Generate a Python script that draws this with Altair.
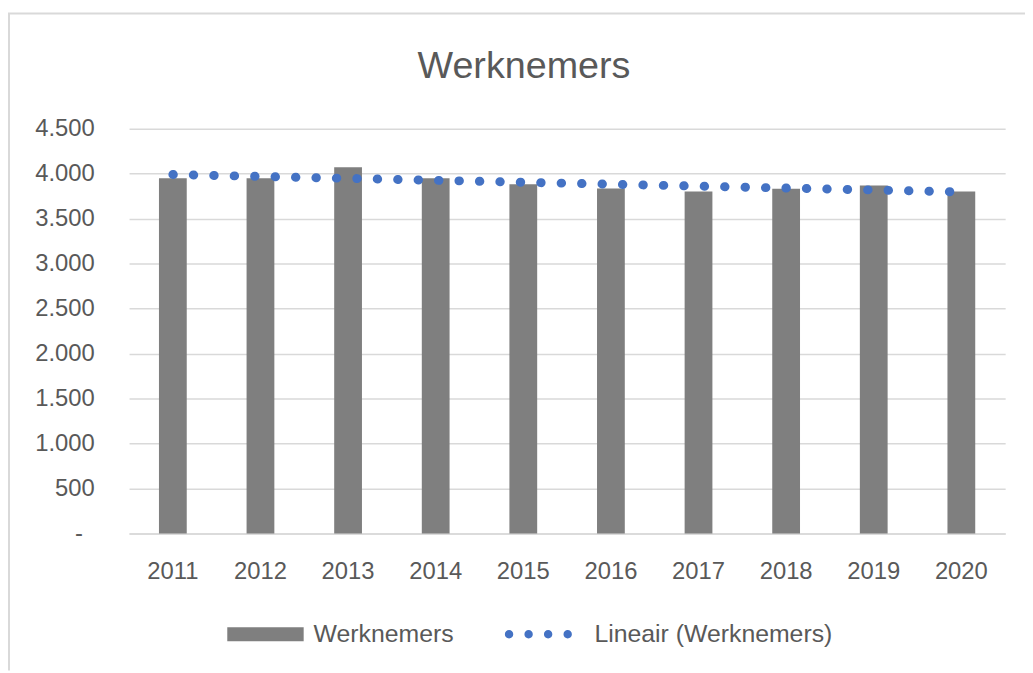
import altair as alt
import pandas as pd

# ---- data ----
JAREN = [2011, 2012, 2013, 2014, 2015, 2016, 2017, 2018, 2019, 2020]
WERKNEMERS = [3948, 3948, 4070, 3948, 3882, 3835, 3802, 3831, 3868, 3802]
SERIES = ["Werknemers", "Lineair (Werknemers)"]
COLORS = ["#7f7f7f", "#4472C4"]
Y_TICKS = [0, 500, 1000, 1500, 2000, 2500, 3000, 3500, 4000, 4500]
TITLE = "Werknemers"

df = pd.DataFrame({"jaar": JAREN, "werknemers": WERKNEMERS, "serie": SERIES[0]})

FONT = "Liberation Sans"
TXT = "#595959"
GRID = "#d9d9d9"

y_label_expr = (
    "datum.value == 0 ? '-' : "
    "replace(format(datum.value, ','), ',', '.')"
)

# legend symbol paths (unit space, scaled by sqrt(symbolSize)/2)
RECT_PATH = "M-1,-0.182H1V0.182H-1Z"
r = 0.11
dots = []
for cx in [-0.974, -0.462, 0.049, 0.561]:
    dots.append(f"M{cx - r:.3f},0a{r},{r} 0 1,0 {2*r:.3f},0a{r},{r} 0 1,0 {-2*r:.3f},0Z")
DOTS_PATH = "".join(dots)

legend_common = dict(
    title=None, orient="none", direction="horizontal", padding=0,
    symbolSize=5929, labelOffset=10, labelFontSize=25, labelColor=TXT,
    labelFont=FONT, symbolStrokeWidth=0, labelLimit=500,
)

x_axis = alt.Axis(
    title=None, labelAngle=0, ticks=False, grid=False, domain=True,
    domainColor=GRID, domainWidth=1.5, labelFontSize=24, labelColor=TXT,
    labelFont=FONT, labelPadding=26,
)
y_axis = alt.Axis(
    title=None, values=Y_TICKS, labelExpr=y_label_expr, grid=True,
    gridColor=GRID, gridWidth=1.5, domain=False, ticks=False,
    labelFontSize=24, labelColor=TXT, labelFont=FONT,
    labelPadding={"condition": {"test": "datum.value == 0", "value": 47}, "value": 35},
)

bars = alt.Chart(df).mark_bar().encode(
    x=alt.X("jaar:O", scale=alt.Scale(paddingInner=0.683, paddingOuter=0.3415), axis=x_axis),
    y=alt.Y("werknemers:Q", scale=alt.Scale(domain=[0, 4500], nice=False), axis=y_axis),
    color=alt.Color(
        "serie:N",
        scale=alt.Scale(domain=[SERIES[0]], range=[COLORS[0]]),
        legend=alt.Legend(legendX=99, legendY=471, symbolType=RECT_PATH, **legend_common),
    ),
)

trend = (
    alt.Chart(df)
    .transform_regression("jaar", "werknemers")
    .mark_line(strokeDash=[0.5, 20.1], strokeCap="round", strokeWidth=9, color=COLORS[1])
    .encode(x=alt.X("jaar:O", axis=x_axis), y=alt.Y("werknemers:Q", axis=y_axis))
)

# legend entry for the trend line (layer carries no rows, only the legend)
trend_key = (
    alt.Chart(df)
    .transform_filter("false")
    .transform_calculate(serie2="'" + SERIES[1] + "'")
    .mark_point(filled=True, opacity=1)
    .encode(
        color=alt.Color(
            "serie2:N",
            scale=alt.Scale(domain=[SERIES[1]], range=[COLORS[1]]),
            legend=alt.Legend(legendX=382, legendY=471, symbolType=DOTS_PATH, **legend_common),
        )
    )
)

frame_src = alt.Data(values=[{"k": 1}])
frame_left = alt.Chart(frame_src).mark_rule(color=GRID, strokeWidth=2, clip=False).encode(
    x=alt.value(-121), y=alt.value(-116), y2=alt.value(546)
)
frame_top = alt.Chart(frame_src).mark_rule(color=GRID, strokeWidth=2, clip=False).encode(
    x=alt.value(-122), x2=alt.value(903), y=alt.value(-116)
)

chart = (
    alt.layer(bars, trend, trend_key, frame_left, frame_top)
    .resolve_scale(color="independent")
    .resolve_legend(color="independent")
    .properties(
        width=883,
        height=408,
        background="white",
        autosize=alt.AutoSizeParams(type="none"),
        padding={"left": 122, "top": 119, "right": 20, "bottom": 138},
        title=alt.TitleParams(
            TITLE, anchor="middle", frame="group", fontSize=38, font=FONT,
            fontWeight="normal", color=TXT, baseline="alphabetic", offset=0,
            dy=104, dx=-43.5,
        ),
    )
    .configure_view(stroke="transparent", strokeWidth=0)
    .configure_axisY(domain=False, ticks=False)
    .configure_axisX(grid=False, ticks=False)
)

chart.save("out.html", embed_options={"renderer": "svg", "actions": False})
